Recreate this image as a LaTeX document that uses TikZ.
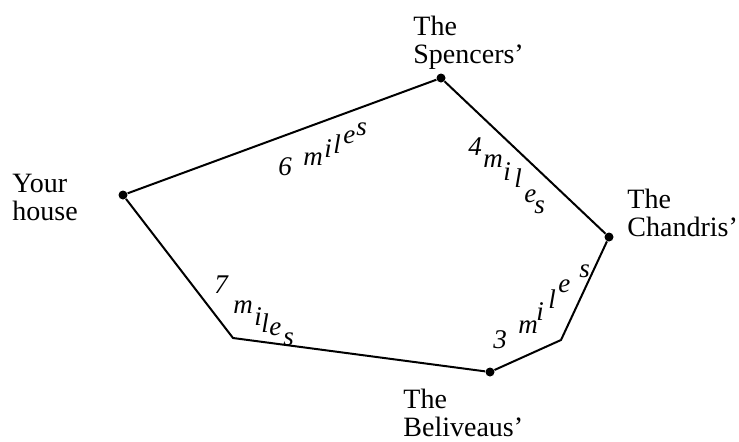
\documentclass[tikz,border=0pt]{standalone}
\usepackage{fontspec}
\setmainfont{Liberation Serif}
\usepackage{tikz}
% one letter, shifted right and raised from the label's start
\newcommand{\glyph}[3]{\rlap{\hspace{#1}\raisebox{#2}{#3}}}

\begin{document}
\begin{tikzpicture}[
  x=0.5pt, y=-0.5pt,
  dot/.style={circle, fill=black, inner sep=0pt, minimum size=4.5pt},
  road/.style={line width=1pt, line join=round},
  place/.style={font=\fontsize{14}{14}\selectfont, align=left,
    anchor=north west, inner sep=0pt},
  dist/.style={font=\fontsize{13.5}{13.5}\selectfont\itshape,
    anchor=base west, inner sep=0pt}
]
\useasboundingbox (0,0) rectangle (739,441);

% ── Stops ──────────────────────────────────────────────────────────────────
\node[dot] (house)    at (123,195) {};
\node[dot] (spencer)  at (441,78)  {};
\node[dot] (chandris) at (609,237) {};
\node[dot] (beliveau) at (490,372) {};
\coordinate (bendR) at (561,340);
\coordinate (bendL) at (233,338);

% ── Roads ──────────────────────────────────────────────────────────────────
\draw[road] (house) -- (spencer) -- (chandris) -- (bendR) -- (beliveau)
  -- (bendL) -- (house);

% ── Place names ────────────────────────────────────────────────────────────
\node[place] (nhouse)    at (12,174)  {Your\\house};
\node[place] (nspencer)  at (413,16)  {The\\Spencers'};
\node[place] (nchandris) at (627,189) {The\\Chandris'};
\node[place] (nbeliveau) at (403,389) {The\\Beliveaus'};

% ── Distances ──────────────────────────────────────────────────────────────
\node[dist] (d6) at (277,175)
  {\glyph{0pt}{0pt}{6}\glyph{12.5pt}{5pt}{m}\glyph{23pt}{9pt}{i}%
   \glyph{27.5pt}{11pt}{l}\glyph{32.5pt}{16pt}{e}\glyph{39pt}{20pt}{s}};
\node[dist] (d4) at (467,155)
  {\glyph{0pt}{0pt}{4}\glyph{7.5pt}{-6pt}{m}\glyph{17.5pt}{-12.5pt}{i}%
   \glyph{23pt}{-16pt}{l}\glyph{28pt}{-23.5pt}{e}\glyph{33pt}{-29pt}{s}};
\node[dist] (d7) at (213,293)
  {\glyph{0pt}{0pt}{7}\glyph{9.5pt}{-10pt}{m}\glyph{20pt}{-16pt}{i}%
   \glyph{23.5pt}{-19.5pt}{l}\glyph{27.5pt}{-21pt}{e}\glyph{34.5pt}{-26pt}{s}};
\node[dist] (d3) at (492,348)
  {\glyph{0pt}{0pt}{3}\glyph{12.5pt}{7.5pt}{m}\glyph{21.5pt}{14pt}{i}%
   \glyph{27.5pt}{20pt}{l}\glyph{32.5pt}{28pt}{e}\glyph{43pt}{35.5pt}{s}};

\end{tikzpicture}
\end{document}
